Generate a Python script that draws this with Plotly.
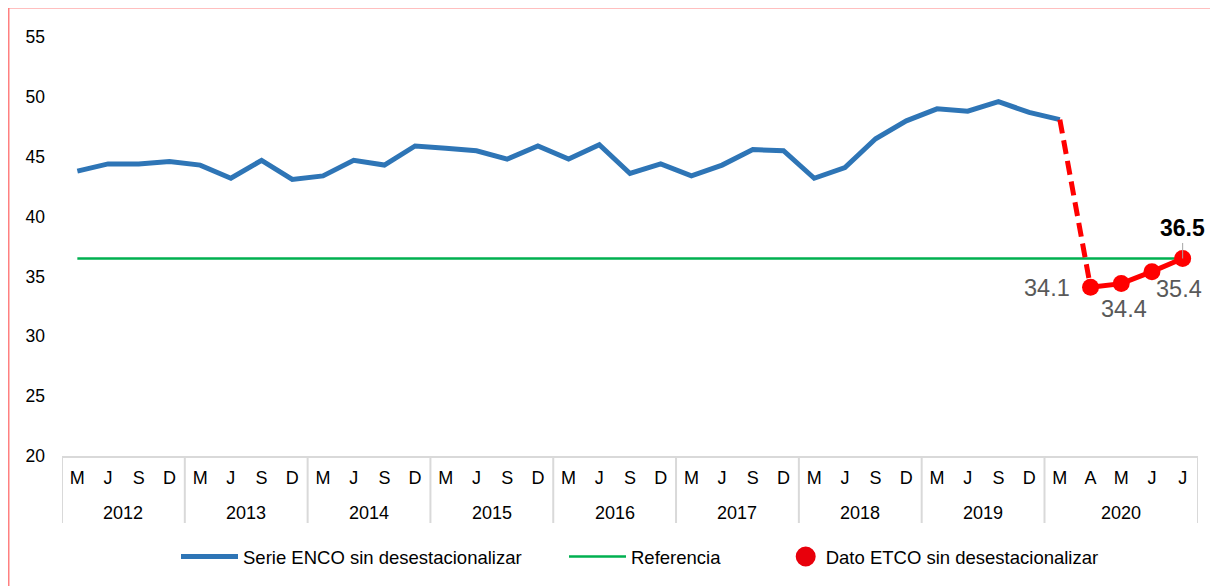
import plotly.graph_objects as go

# ---------------- data ----------------
years = ["2012", "2013", "2014", "2015", "2016", "2017", "2018", "2019", "2020"]
months_std = ["M", "J", "S", "D"]
months_2020 = ["M", "A", "M", "J", "J"]

enco = [43.8, 44.4, 44.4, 44.6,
        44.3, 43.2, 44.7, 43.1,
        43.4, 44.7, 44.3, 45.9,
        45.7, 45.5, 44.8, 45.9,
        44.8, 46.0, 43.6, 44.4,
        43.4, 44.3, 45.6, 45.5,
        43.2, 44.1, 46.5, 48.0,
        49.0, 48.8, 49.6, 48.7,
        48.1]
etco = [34.1, 34.4, 35.4, 36.5]
etco_labels = ["34.1", "34.4", "35.4", "36.5"]
referencia = 36.5

names = ["Serie ENCO sin desestacionalizar", "Referencia", "Dato ETCO sin desestacionalizar"]

# ---------------- categories ----------------
cat_months = []
group_sizes = []
for y in years:
    ms = months_2020 if y == "2020" else months_std
    cat_months.extend(ms)
    group_sizes.append(len(ms))
n = len(cat_months)
n_enco = len(enco)
xi = list(range(n))

FONT = "Arial, 'Liberation Sans', sans-serif"
BLUE = "#2E75B6"
GREEN = "#00B050"
RED = "#FF0000"
GRID = "#D9D9D9"

W, H = 1218, 586
ML, MR, MT, MB = 54, 28, 29, 138
PLOT_W = W - ML - MR
PLOT_H = H - MT - MB

fig = go.Figure()

fig.add_trace(go.Scatter(
    x=xi, y=[referencia] * n,
    mode="lines", line=dict(color=GREEN, width=2.5),
    name=names[1], legend="legend2", hoverinfo="skip"))

fig.add_trace(go.Scatter(
    x=xi[:n_enco], y=enco,
    mode="lines", line=dict(color=BLUE, width=5),
    name=names[0], legend="legend"))

fig.add_trace(go.Scatter(
    x=xi[n_enco - 1:n_enco + 1], y=[enco[-1], etco[0]],
    mode="lines", line=dict(color=RED, width=5, dash="14px,7px"),
    showlegend=False, hoverinfo="skip"))

fig.add_trace(go.Scatter(
    x=xi[n_enco:], y=etco,
    mode="lines+markers", line=dict(color=RED, width=5),
    marker=dict(size=17, color=RED),
    showlegend=False, name=names[2]))

fig.add_trace(go.Scatter(
    x=[None], y=[None], mode="markers",
    marker=dict(size=16, color="#E8000B", line=dict(color="#E8000B", width=4)),
    name=names[2], legend="legend3"))

# ---------------- data labels ----------------
label_style = [
    dict(xanchor="right", xshift=-19, yshift=-1),
    dict(xanchor="center", xshift=3, yshift=-25),
    dict(xanchor="center", xshift=27, yshift=-17),
]
for k in range(3):
    s = label_style[k]
    fig.add_annotation(
        x=xi[n_enco + k], y=etco[k], xref="x", yref="y",
        text=etco_labels[k], showarrow=False,
        xanchor=s["xanchor"], yanchor="middle",
        xshift=s["xshift"], yshift=s["yshift"],
        font=dict(family=FONT, size=23.5, color="#595959"))
fig.add_annotation(
    x=xi[n_enco + 3], y=etco[3], xref="x", yref="y",
    text="<b>" + etco_labels[3] + "</b>", showarrow=True,
    arrowhead=0, arrowwidth=1, arrowcolor="#A6A6A6", standoff=0,
    ax=0, ay=-30,
    font=dict(family=FONT, size=23, color="#000000"))

# ---------------- year groups (second axis level) ----------------
div_bottom = -(523 - 456) / PLOT_H
year_y = -(513 - 456) / PLOT_H
start = 0
bounds = [-0.5]
for y, g in zip(years, group_sizes):
    fig.add_annotation(
        x=start + (g - 1) / 2, y=year_y, xref="x", yref="paper",
        text=y, showarrow=False, xanchor="center", yanchor="middle",
        font=dict(family=FONT, size=18, color="#000000"))
    start += g
    bounds.append(start - 0.5)
for b in bounds:
    fig.add_shape(type="line", xref="x", yref="paper",
                  x0=b, x1=b, y0=0, y1=div_bottom,
                  line=dict(color=GRID, width=2))

# outer pink border (figure edge)
fig.add_shape(type="rect", xref="paper", yref="paper",
              x0=-(ML - 0.5) / PLOT_W, x1=1.2,
              y0=1 + (MT + 0.5) / PLOT_H, y1=-0.6,
              line=dict(color="#FF8080", width=2), layer="below")

legend_common = dict(orientation="h", yanchor="middle", xanchor="left",
                     y=-(549 - (H - MB)) / PLOT_H,
                     font=dict(family=FONT, size=18.5, color="#000000"),
                     bgcolor="rgba(0,0,0,0)", tracegroupgap=0)

fig.update_layout(
    width=W, height=H,
    margin=dict(l=ML, r=MR, t=MT, b=MB),
    paper_bgcolor="white", plot_bgcolor="white",
    font=dict(family=FONT, size=18, color="#000000"),
    legend=dict(x=(168 - ML) / PLOT_W, itemwidth=57, **legend_common),
    legend2=dict(x=(556 - ML) / PLOT_W, itemwidth=57, **legend_common),
    legend3=dict(x=(777.7 - ML) / PLOT_W, itemwidth=30, **legend_common),
    xaxis=dict(range=[-0.5, n - 0.5], tickvals=xi, ticktext=cat_months,
               showgrid=False, zeroline=False, automargin=False,
               showline=True, linecolor=GRID, linewidth=2,
               ticks="", ticklabelstandoff=4,
               tickfont=dict(family=FONT, size=18, color="#000000")),
    yaxis=dict(range=[20, 55], dtick=5, showgrid=False, zeroline=False,
               showline=False, ticks="", ticklabelstandoff=16, automargin=False,
               tickfont=dict(family=FONT, size=17.5, color="#000000")),
    showlegend=True,
)

fig.write_html("out.html",
               post_script="document.documentElement.style.overflow='hidden';"
                           "document.body.style.overflow='hidden';")
